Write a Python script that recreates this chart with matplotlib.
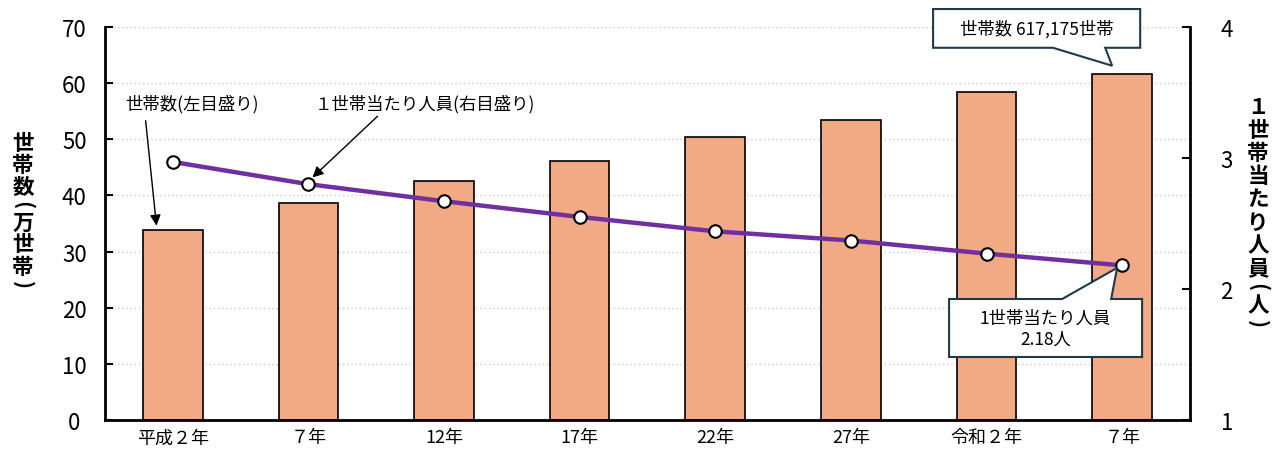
import numpy as np
import matplotlib.pyplot as plt
from matplotlib.patches import Polygon

plt.rcParams['font.family'] = ['Noto Sans CJK JP', 'DejaVu Sans']

# --- データ ---
years = ['平成２年', '７年', '12年', '17年', '22年', '27年', '令和２年', '７年']
households = [33.8, 38.6, 42.6, 46.1, 50.4, 53.4, 58.4, 61.7]   # 万世帯
persons = [2.97, 2.80, 2.67, 2.55, 2.44, 2.37, 2.27, 2.18]       # 人
left_ticks = [0, 10, 20, 30, 40, 50, 60, 70]
right_ticks = [1, 2, 3, 4]

bar_color = '#F2AA84'
line_color = '#7030A0'
box_edge = '#1F3A4A'

W, H = 1272, 456
fig = plt.figure(figsize=(W / 100, H / 100), dpi=100)
ax = fig.add_axes([0.0825, 0.0768, 0.853, 0.8618])
x = np.arange(len(years))

ax.bar(x, households, width=0.44, color=bar_color, edgecolor='black', linewidth=1.2, zorder=2)
ax.set_xlim(-0.5, len(years) - 0.5)
ax.set_ylim(0, 70)
ax.set_yticks(left_ticks)
ax.set_xticks(x)
ax.set_xticklabels(years, fontsize=13)
ax.tick_params(axis='x', length=0, pad=6)
ax.tick_params(axis='y', direction='in', length=6, width=1.5, labelsize=16, pad=22)
for t in ax.get_yticklabels():
    t.set_horizontalalignment('center')
for y in left_ticks[1:]:
    ax.axhline(y, color='#C8C8C8', linestyle=(0, (1, 2)), linewidth=1, zorder=0)
ax.spines['top'].set_visible(False)
ax.spines['right'].set_visible(False)
ax.spines['left'].set_linewidth(2)
ax.spines['bottom'].set_linewidth(2)

ax2 = ax.twinx()
ax2.plot(x, persons, color=line_color, linewidth=3.2, marker='o', markersize=9,
         markerfacecolor='white', markeredgecolor='black', markeredgewidth=1.5, zorder=3)
ax2.set_ylim(1, 4)
ax2.set_yticks(right_ticks)
ax2.tick_params(axis='y', direction='in', length=6, width=1.5, labelsize=16, pad=22)
ax2.spines['top'].set_visible(False)
ax2.spines['left'].set_visible(False)
ax2.spines['bottom'].set_visible(False)
ax2.spines['right'].set_linewidth(2)


# --- 軸ラベル（縦書き） ---
def vertical_label(text, xpx, ypx, half, size=15.5):
    y = ypx
    prev = None
    for ch in text:
        h = 7 if ch in '()' else half
        if prev is not None:
            y += prev + h
        rot = 270 if ch in '()' else 0
        fig.text(xpx / W, 1 - y / H, ch, fontsize=size, fontweight='bold',
                 ha='center', va='center', rotation=rot)
        prev = h


vertical_label('世帯数(万世帯)', 23, 143, 11)
vertical_label('１世帯当たり人員(人)', 1258, 108, 11.5)

# --- 注記（左目盛りの座標で描く、最前面） ---
ax3 = fig.add_axes(ax.get_position(), sharex=ax, sharey=ax, frameon=False)
ax3.axis('off')
ax3.text(0.14, 56.4, '世帯数(左目盛り)', fontsize=12.5, ha='center', va='center')
ax3.text(1.86, 56.4, '１世帯当たり人員(右目盛り)', fontsize=12.5, ha='center', va='center')
ax3.annotate('', xy=(-0.12, 34.6), xytext=(-0.2, 53.3),
             arrowprops=dict(arrowstyle='-|>', color='black', lw=1, mutation_scale=16,
                             shrinkA=0, shrinkB=0))
ax3.annotate('', xy=(1.03, 43.2), xytext=(1.51, 54.1),
             arrowprops=dict(arrowstyle='-|>', color='black', lw=1, mutation_scale=16,
                             shrinkA=0, shrinkB=0))


def callout(box, base, tip, text):
    x0, x1, y0, y1 = box
    bx0, bx1, by = base
    if by == y0:
        verts = [(x0, y0), (bx0, y0), tip, (bx1, y0), (x1, y0), (x1, y1), (x0, y1)]
    else:
        verts = [(x0, y0), (x1, y0), (x1, y1), (bx1, y1), tip, (bx0, y1), (x0, y1)]
    ax3.add_patch(Polygon(verts, closed=True, facecolor='white', edgecolor=box_edge,
                          linewidth=1.5, zorder=5, clip_on=False))
    ax3.text((x0 + x1) / 2, (y0 + y1) / 2, text, ha='center', va='center', fontsize=12.5,
             zorder=6, linespacing=1.25, clip_on=False)


callout((5.606, 7.133, 66.3, 73.2), (6.49, 6.875, 66.3), (6.926, 63.1), '世帯数 617,175世帯')
callout((5.724, 7.147, 11.22, 21.55), (6.558, 6.919, 21.55), (6.963, 27.1), '1世帯当たり人員\n2.18人')

fig.savefig('out.png', dpi=100)
